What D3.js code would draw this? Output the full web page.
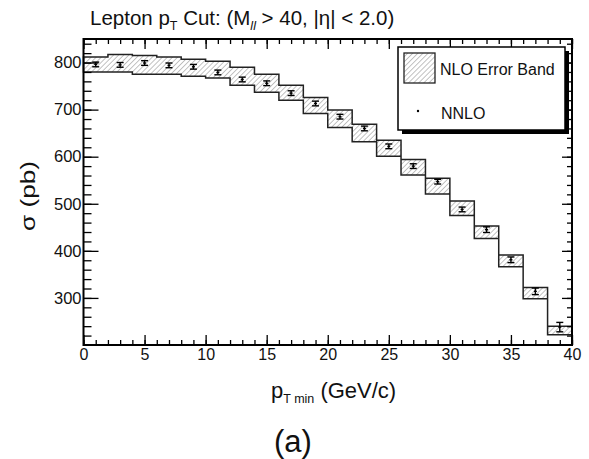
<!DOCTYPE html>
<html>
<head>
<meta charset="utf-8">
<script src="https://cdn.jsdelivr.net/npm/d3@7/dist/d3.min.js"></script>
<style>
  body { margin: 0; background: #fff; }
  svg { display: block; }
  text { font-family: "Liberation Sans", Arial, sans-serif; fill: #111; }
</style>
</head>
<body>
<div id="chart"></div>
<script>
// bins of width 2 GeV/c, lower edges / centres
var binLow    = [0, 2, 4, 6, 8, 10, 12, 14, 16, 18, 20, 22, 24, 26, 28, 30, 32, 34, 36, 38];
var binHigh   = [2, 4, 6, 8, 10, 12, 14, 16, 18, 20, 22, 24, 26, 28, 30, 32, 34, 36, 38, 40];
var binCenter = [1, 3, 5, 7, 9, 11, 13, 15, 17, 19, 21, 23, 25, 27, 29, 31, 33, 35, 37, 39];
// NLO error band (pb)
var nloHigh = [812, 817, 815, 812, 807, 803, 790, 775, 752, 726, 699, 669, 635, 594, 554, 506, 453, 391, 322, 240];
var nloLow  = [780, 780, 775, 775, 771, 767, 752, 737, 720, 692, 662, 632, 601, 561, 521, 475, 426, 366, 298, 222];
// NNLO points (pb)
var nnlo    = [796, 795, 799, 794, 791, 779, 764, 756, 735, 713, 685, 660, 622, 580, 547, 488, 445, 381, 314, 238];
var nnloErr = [5, 5, 5, 5, 5, 5, 5, 5, 5, 5, 5, 5, 5, 5, 5, 5, 6, 6, 7, 10];

var xTicks = [0, 5, 10, 15, 20, 25, 30, 35, 40];
var yTicks = [300, 400, 500, 600, 700, 800];

var width = 589, height = 459;
var margin = {left: 83.5, top: 39, right: 17, bottom: 114};

var svg = d3.select('#chart').append('svg')
    .attr('width', width)
    .attr('height', height);

var x = d3.scaleLinear().domain([0, 40]).range([margin.left, width - margin.right]);
var y = d3.scaleLinear().domain([200, 850]).range([height - margin.bottom, margin.top]);

// hatch pattern for the band
var defs = svg.append('defs');
var pat = defs.append('pattern')
    .attr('id', 'hatch')
    .attr('patternUnits', 'userSpaceOnUse')
    .attr('width', 3.6).attr('height', 3.6)
    .attr('patternTransform', 'rotate(45)');
pat.append('rect').attr('width', 3.6).attr('height', 3.6).attr('fill', '#fff');
pat.append('line')
    .attr('x1', 0).attr('y1', 0).attr('x2', 0).attr('y2', 3.6)
    .attr('stroke', '#9a9a9a').attr('stroke-width', 1.2);

// band: two points per bin so the edges step
var bandPts = [];
binLow.forEach(function(lo, i) {
  bandPts.push({x: lo, hi: nloHigh[i], lo: nloLow[i]});
  bandPts.push({x: binHigh[i], hi: nloHigh[i], lo: nloLow[i]});
});

var area = d3.area()
    .x(function(d) { return x(d.x); })
    .y0(function(d) { return y(d.lo); })
    .y1(function(d) { return y(d.hi); });

svg.append('path')
    .datum(bandPts)
    .attr('d', area)
    .attr('fill', 'url(#hatch)')
    .attr('stroke', '#222')
    .attr('stroke-width', 1.5)
    .attr('stroke-linejoin', 'miter');

// NNLO points with error bars
var pts = svg.append('g').selectAll('g')
    .data(nnlo)
    .enter().append('g')
    .attr('stroke', '#000')
    .attr('stroke-width', 1.4);

pts.append('line')
    .attr('x1', function(d, i) { return x(binCenter[i]); })
    .attr('x2', function(d, i) { return x(binCenter[i]); })
    .attr('y1', function(d, i) { return y(d - nnloErr[i]); })
    .attr('y2', function(d, i) { return y(d + nnloErr[i]); });
[-1, 1].forEach(function(s) {
  pts.append('line')
      .attr('x1', function(d, i) { return x(binCenter[i]) - 3.5; })
      .attr('x2', function(d, i) { return x(binCenter[i]) + 3.5; })
      .attr('y1', function(d, i) { return y(d + s * nnloErr[i]); })
      .attr('y2', function(d, i) { return y(d + s * nnloErr[i]); });
});
pts.append('line')
    .attr('x1', function(d, i) { return x(binCenter[i]) - 1.5; })
    .attr('x2', function(d, i) { return x(binCenter[i]) + 1.5; })
    .attr('y1', function(d) { return y(d); })
    .attr('y2', function(d) { return y(d); });

// axes, ticks pointing inward on all four sides
var x0 = x.range()[0], x1 = x.range()[1], y0 = y.range()[0], y1 = y.range()[1];
var xMinor = d3.range(0, 41, 1), yMinor = d3.range(220, 850, 20);

function drawAxis(axis, tx, ty, cls) {
  var g = svg.append('g').attr('class', cls)
      .attr('transform', 'translate(' + tx + ',' + ty + ')')
      .call(axis);
  g.select('.domain').remove();
  g.selectAll('line').attr('stroke', '#000').attr('stroke-width', 1.3);
  return g;
}

drawAxis(d3.axisBottom(x).tickValues(xMinor).tickSize(-5).tickFormat(''), 0, y0, 'xminor');
drawAxis(d3.axisTop(x).tickValues(xMinor).tickSize(-5).tickFormat(''), 0, y1, 'xminor');
drawAxis(d3.axisTop(x).tickValues(xTicks).tickSize(-10).tickFormat(''), 0, y1, 'xmajor');
var xAx = drawAxis(d3.axisBottom(x).tickValues(xTicks).tickSize(-10).tickPadding(3), 0, y0, 'xmajor');
xAx.selectAll('text').attr('font-size', 16).attr('fill', '#111').attr('dy', '0.75em');

drawAxis(d3.axisLeft(y).tickValues(yMinor).tickSize(-8).tickFormat(''), x0, 0, 'yminor');
drawAxis(d3.axisRight(y).tickValues(yMinor).tickSize(-5).tickFormat(''), x1, 0, 'yminor');
drawAxis(d3.axisRight(y).tickValues(yTicks).tickSize(-10).tickFormat(''), x1, 0, 'ymajor');
var yAx = drawAxis(d3.axisLeft(y).tickValues(yTicks).tickSize(-15).tickPadding(2), x0, 0, 'ymajor');
yAx.selectAll('text').attr('font-size', 16.5).attr('fill', '#111');

// frame
svg.append('rect')
    .attr('x', x0).attr('y', y1)
    .attr('width', x1 - x0).attr('height', y0 - y1)
    .attr('fill', 'none').attr('stroke', '#000').attr('stroke-width', 2);

// legend
var lg = svg.append('g').attr('transform', 'translate(398,47)');
lg.append('rect').attr('x', 4).attr('y', 4).attr('width', 167).attr('height', 83).attr('fill', '#000');
lg.append('rect').attr('width', 167).attr('height', 83)
    .attr('fill', '#fff').attr('stroke', '#000').attr('stroke-width', 1.5);
lg.append('rect').attr('x', 6).attr('y', 6).attr('width', 31).attr('height', 30)
    .attr('fill', 'url(#hatch)').attr('stroke', '#222').attr('stroke-width', 1.3);
lg.append('text').attr('x', 42).attr('y', 28).attr('font-size', 16).text('NLO Error Band');
lg.append('circle').attr('cx', 20).attr('cy', 64).attr('r', 1.2).attr('fill', '#000');
lg.append('text').attr('x', 43).attr('y', 72).attr('font-size', 16).text('NNLO');

// title
var title = svg.append('text').attr('x', 90).attr('y', 25).attr('font-size', 20.5);
title.append('tspan').text('Lepton p');
title.append('tspan').attr('font-size', 12.5).attr('dy', 5).text('T');
title.append('tspan').attr('dy', -5).text(' Cut: (M');
title.append('tspan').attr('font-size', 12.5).attr('font-style', 'italic').attr('dy', 5).text('ll');
title.append('tspan').attr('dy', -5).text(' > 40, |η| < 2.0)');

// axis titles
svg.append('text')
    .attr('transform', 'translate(35,196) rotate(-90)')
    .attr('text-anchor', 'middle')
    .attr('font-size', 21)
    .attr('textLength', 70)
    .attr('lengthAdjust', 'spacingAndGlyphs')
    .text('σ (pb)');

var xt = svg.append('text').attr('x', 271).attr('y', 398).attr('font-size', 22);
xt.append('tspan').text('p');
xt.append('tspan').attr('font-size', 12.5).attr('dy', 5).text('T min');
xt.append('tspan').attr('dy', -5).text(' (GeV/c)');

svg.append('text')
    .attr('x', 293).attr('y', 452)
    .attr('text-anchor', 'middle')
    .attr('font-family', '"Liberation Serif", "DejaVu Serif", serif')
    .attr('font-size', 31)
    .text('(a)');
</script>
</body>
</html>
